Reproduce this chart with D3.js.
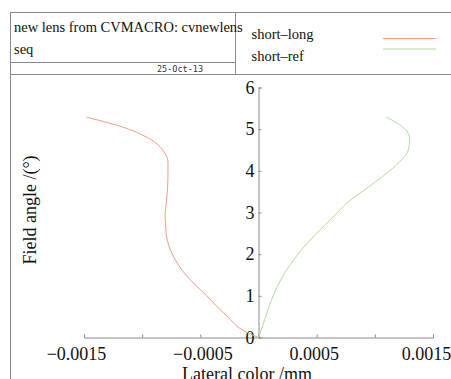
<!DOCTYPE html>
<html><head><meta charset="utf-8">
<script src="https://cdn.jsdelivr.net/npm/d3@7"></script>
<style>body{margin:0;background:#fff}svg{display:block}</style>
</head><body>
<script>
const titleLines = ["new lens from CVMACRO: cvnewlens", "seq"];
const dateLabel = "25-Oct-13";
const seriesNames = ["short\u2013long", "short\u2013ref"];
const seriesColors = ["#f89a80", "#b0dd98"];
const shortLongY = [0, 0.13, 0.53, 1.01, 1.49, 1.97, 2.45, 2.69, 2.93, 3.25, 3.89, 4.21, 4.49, 4.77, 5.02, 5.29];
const shortLongX = [0, -0.000106, -0.000277, -0.000449, -0.000621, -0.000736, -0.000792, -0.000798, -0.000803, -0.000792, -0.000778, -0.000778, -0.000821, -0.000936, -0.001136, -0.001479];
const shortRefY = [0, 0.29, 0.77, 1.33, 1.89, 2.45, 2.71, 2.93, 3.21, 3.57, 3.93, 4.21, 4.49, 4.77, 5.02, 5.29];
const shortRefX = [0, 0.000037, 0.000094, 0.00018, 0.000309, 0.000481, 0.000575, 0.000655, 0.000754, 0.000925, 0.001097, 0.00121, 0.001287, 0.0013, 0.001253, 0.001099];
const xTicks = [-0.0015, -0.001, -0.0005, 0, 0.0005, 0.001, 0.0015];
const xTickLabels = ["\u22120.0015", "", "\u22120.0005", "", "0.0005", "", "0.0015"];
const yTicks = [0, 1, 2, 3, 4, 5, 6];
const xTitle = "Lateral color /mm";
const yTitle = "Field angle /(\u00b0)";

const W = 451, H = 379;
const svg = d3.select("body").append("svg").attr("width", W).attr("height", H);
const serif = "'Liberation Serif', serif";
const frame = "#8a8a8a";
const labelShift = [-8, 0, 2, 0, -3, 0, -7];

// frame & header
const g0 = svg.append("g").attr("fill", "none").attr("stroke", frame).attr("stroke-width", 1);
g0.append("rect").attr("x", 10.5).attr("y", 12.5).attr("width", 460).attr("height", 400);
g0.append("line").attr("x1", 10).attr("x2", 470).attr("y1", 74.5).attr("y2", 74.5);
g0.append("line").attr("x1", 235.5).attr("x2", 235.5).attr("y1", 12).attr("y2", 74);
g0.append("line").attr("x1", 10).attr("x2", 235).attr("y1", 62.5).attr("y2", 62.5);

svg.selectAll("text.title").data(titleLines).join("text").attr("class", "title")
  .attr("x", 14).attr("y", (d, i) => 32 + i * 21.5)
  .attr("font-family", serif).attr("font-size", 14.5).attr("fill", "#111").text(d => d);
svg.append("text").attr("x", 180).attr("y", 72).attr("text-anchor", "middle")
  .attr("font-family", "'DejaVu Sans Mono', monospace").attr("font-size", 8.5).attr("fill", "#333").text(dateLabel);

// legend
const leg = svg.append("g");
seriesNames.forEach((n, i) => {
  leg.append("text").attr("x", 251.5).attr("y", 38.5 + i * 22).attr("font-family", serif)
    .attr("font-size", 14.5).attr("fill", "#111").text(n);
  leg.append("line").attr("x1", 383).attr("x2", 436).attr("y1", 38.5 + i * 10.5).attr("y2", 38.5 + i * 10.5)
    .attr("stroke", seriesColors[i]).attr("stroke-width", 1);
});

// scales
const x = d3.scaleLinear().domain([-0.0015, 0.0015]).range([84, 433]);
const y = d3.scaleLinear().domain([0, 6]).range([337.5, 87.5]);

const ax = svg.append("g").attr("transform", `translate(0,${y(0)})`)
  .call(d3.axisBottom(x).tickValues(xTicks).tickSize(-3).tickPadding(9).tickFormat((d, i) => xTickLabels[i]));
ax.select(".domain").attr("stroke", frame);
ax.selectAll(".tick line").attr("stroke", frame);
ax.selectAll(".tick text").attr("font-family", serif).attr("font-size", 18).attr("fill", "#111")
  .attr("dy", "0.74em").attr("dx", (d, i) => labelShift[i]);

const ay = svg.append("g").attr("transform", `translate(${x(0)},0)`)
  .call(d3.axisLeft(y).tickValues(yTicks).tickSize(-3).tickPadding(4).tickFormat(d3.format("d")));
ay.select(".domain").attr("stroke", frame);
ay.selectAll(".tick line").attr("stroke", frame);
ay.selectAll(".tick text").attr("font-family", serif).attr("font-size", 18).attr("fill", "#111");

svg.append("text").attr("x", 247).attr("y", 380).attr("text-anchor", "middle")
  .attr("font-family", serif).attr("font-size", 18).attr("fill", "#111").text(xTitle);
svg.append("text").attr("transform", `translate(36,210) rotate(-90)`).attr("text-anchor", "middle")
  .attr("font-family", serif).attr("font-size", 18).attr("fill", "#111").text(yTitle);

const line = d3.line().x(d => x(d[0])).y(d => y(d[1])).curve(d3.curveMonotoneY);
const series = [d3.zip(shortLongX, shortLongY), d3.zip(shortRefX, shortRefY)];
svg.selectAll("path.series").data(series).join("path").attr("class", "series")
  .attr("d", line).attr("fill", "none").attr("stroke", (d, i) => seriesColors[i]).attr("stroke-width", 1);
</script>
</body></html>
